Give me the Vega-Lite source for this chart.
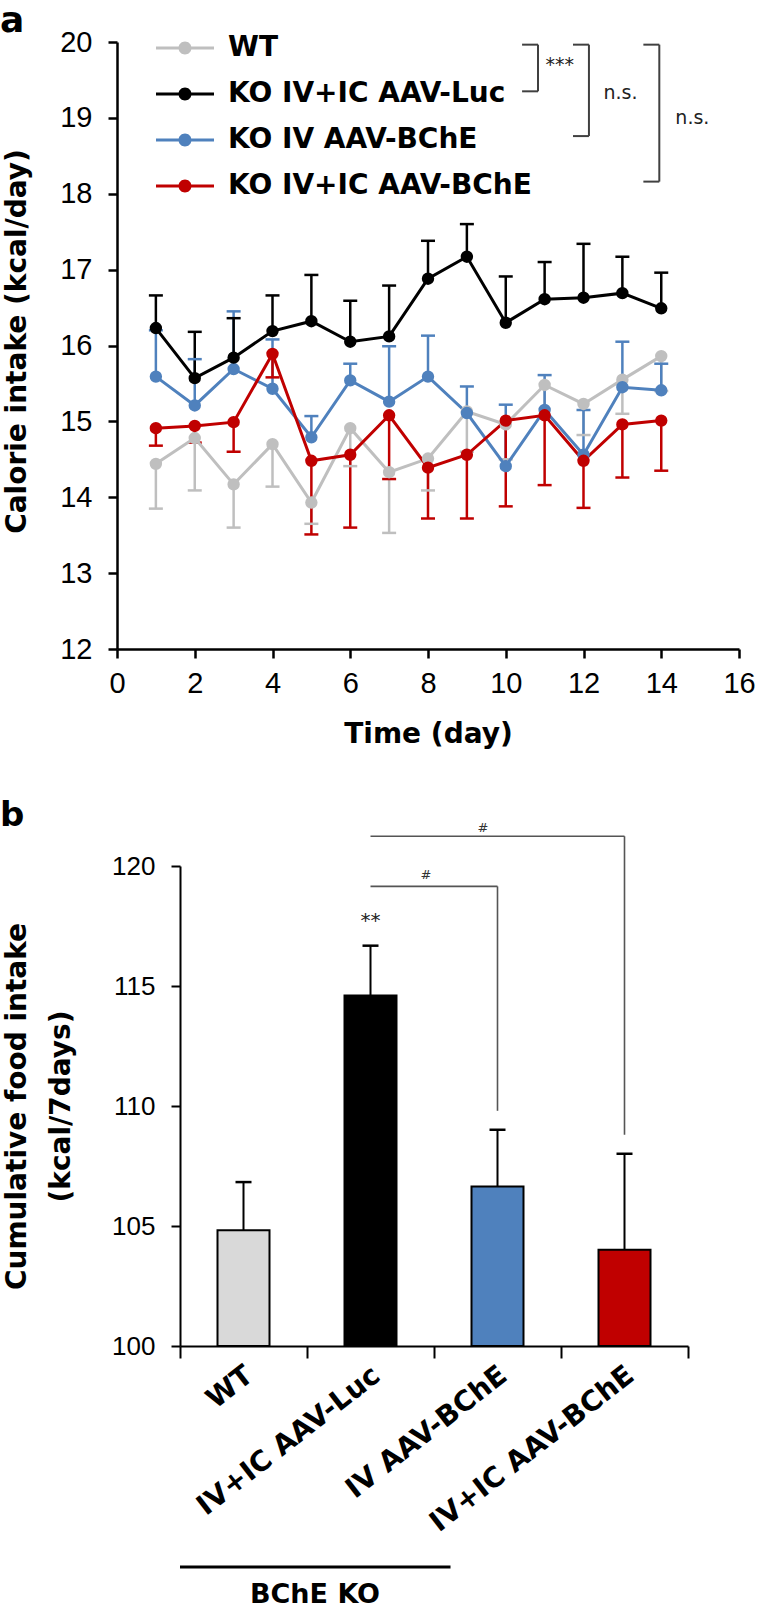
{
  "$schema": "https://vega.github.io/schema/vega-lite/v6.json",
  "padding": {"left": 0, "top": 3, "right": 0, "bottom": 0},
  "autosize": {"type": "pad"},
  "background": "white",
  "bounds": "flush",
  "spacing": 217,
  "resolve": {"scale": {"color": "independent"}, "legend": {"color": "independent"}},
  "config": {
    "view": {"stroke": null},
    "axis": {"grid": false, "domainColor": "#000", "tickColor": "#000", "labelColor": "#000", "titleColor": "#000"},
    "legend": {"orient": "none", "legendX": 54, "legendY": -8, "padding": 0,
      "symbolType": "M-2.9,-0.15H-0.6V0.15H-2.9Z M0.6,-0.15H2.9V0.15H0.6Z M0.65,0A0.65,0.65,0,1,1,-0.65,0A0.65,0.65,0,1,1,0.65,0Z",
      "symbolSize": 400, "symbolOpacity": 1, "symbolStrokeWidth": 0,
      "labelFont": "DejaVu Sans", "labelFontWeight": "bold", "labelFontSize": 28, "labelColor": "#000",
      "labelOffset": 29, "labelLimit": 0, "rowPadding": 18}
  },
  "datasets": {
    "calorie": [
      {"g": "WT", "day": 1, "mean": 14.44, "err": 13.85},
      {"g": "WT", "day": 2, "mean": 14.78, "err": 14.09},
      {"g": "WT", "day": 3, "mean": 14.17, "err": 13.60},
      {"g": "WT", "day": 4, "mean": 14.70, "err": 14.14},
      {"g": "WT", "day": 5, "mean": 13.93, "err": 13.65},
      {"g": "WT", "day": 6, "mean": 14.91, "err": 14.41},
      {"g": "WT", "day": 7, "mean": 14.33, "err": 13.53},
      {"g": "WT", "day": 8, "mean": 14.51, "err": 14.09},
      {"g": "WT", "day": 9, "mean": 15.13, "err": 14.60},
      {"g": "WT", "day": 10, "mean": 14.96, "err": 14.50},
      {"g": "WT", "day": 11, "mean": 15.48, "err": 15.05},
      {"g": "WT", "day": 12, "mean": 15.23, "err": 14.82},
      {"g": "WT", "day": 13, "mean": 15.55, "err": 15.10},
      {"g": "WT", "day": 14, "mean": 15.86, "err": 15.40},
      {"g": "KO IV AAV-BChE", "day": 1, "mean": 15.59, "err": 16.20},
      {"g": "KO IV AAV-BChE", "day": 2, "mean": 15.21, "err": 15.82},
      {"g": "KO IV AAV-BChE", "day": 3, "mean": 15.69, "err": 16.45},
      {"g": "KO IV AAV-BChE", "day": 4, "mean": 15.43, "err": 16.08},
      {"g": "KO IV AAV-BChE", "day": 5, "mean": 14.79, "err": 15.07},
      {"g": "KO IV AAV-BChE", "day": 6, "mean": 15.54, "err": 15.76},
      {"g": "KO IV AAV-BChE", "day": 7, "mean": 15.26, "err": 15.99},
      {"g": "KO IV AAV-BChE", "day": 8, "mean": 15.59, "err": 16.13},
      {"g": "KO IV AAV-BChE", "day": 9, "mean": 15.11, "err": 15.46},
      {"g": "KO IV AAV-BChE", "day": 10, "mean": 14.41, "err": 15.22},
      {"g": "KO IV AAV-BChE", "day": 11, "mean": 15.15, "err": 15.61},
      {"g": "KO IV AAV-BChE", "day": 12, "mean": 14.56, "err": 15.15},
      {"g": "KO IV AAV-BChE", "day": 13, "mean": 15.45, "err": 16.05},
      {"g": "KO IV AAV-BChE", "day": 14, "mean": 15.41, "err": 15.76},
      {"g": "KO IV+IC AAV-BChE", "day": 1, "mean": 14.91, "err": 14.68},
      {"g": "KO IV+IC AAV-BChE", "day": 2, "mean": 14.94, "err": 14.72},
      {"g": "KO IV+IC AAV-BChE", "day": 3, "mean": 14.99, "err": 14.60},
      {"g": "KO IV+IC AAV-BChE", "day": 4, "mean": 15.89, "err": 15.58},
      {"g": "KO IV+IC AAV-BChE", "day": 5, "mean": 14.48, "err": 13.51},
      {"g": "KO IV+IC AAV-BChE", "day": 6, "mean": 14.56, "err": 13.60},
      {"g": "KO IV+IC AAV-BChE", "day": 7, "mean": 15.08, "err": 14.24},
      {"g": "KO IV+IC AAV-BChE", "day": 8, "mean": 14.39, "err": 13.72},
      {"g": "KO IV+IC AAV-BChE", "day": 9, "mean": 14.56, "err": 13.72},
      {"g": "KO IV+IC AAV-BChE", "day": 10, "mean": 15.01, "err": 13.88},
      {"g": "KO IV+IC AAV-BChE", "day": 11, "mean": 15.08, "err": 14.16},
      {"g": "KO IV+IC AAV-BChE", "day": 12, "mean": 14.48, "err": 13.86},
      {"g": "KO IV+IC AAV-BChE", "day": 13, "mean": 14.96, "err": 14.26},
      {"g": "KO IV+IC AAV-BChE", "day": 14, "mean": 15.01, "err": 14.35},
      {"g": "KO IV+IC AAV-Luc", "day": 1, "mean": 16.23, "err": 16.66},
      {"g": "KO IV+IC AAV-Luc", "day": 2, "mean": 15.57, "err": 16.18},
      {"g": "KO IV+IC AAV-Luc", "day": 3, "mean": 15.84, "err": 16.36},
      {"g": "KO IV+IC AAV-Luc", "day": 4, "mean": 16.19, "err": 16.66},
      {"g": "KO IV+IC AAV-Luc", "day": 5, "mean": 16.32, "err": 16.93},
      {"g": "KO IV+IC AAV-Luc", "day": 6, "mean": 16.05, "err": 16.59},
      {"g": "KO IV+IC AAV-Luc", "day": 7, "mean": 16.12, "err": 16.79},
      {"g": "KO IV+IC AAV-Luc", "day": 8, "mean": 16.88, "err": 17.38},
      {"g": "KO IV+IC AAV-Luc", "day": 9, "mean": 17.17, "err": 17.60},
      {"g": "KO IV+IC AAV-Luc", "day": 10, "mean": 16.30, "err": 16.91},
      {"g": "KO IV+IC AAV-Luc", "day": 11, "mean": 16.61, "err": 17.10},
      {"g": "KO IV+IC AAV-Luc", "day": 12, "mean": 16.63, "err": 17.34},
      {"g": "KO IV+IC AAV-Luc", "day": 13, "mean": 16.69, "err": 17.17},
      {"g": "KO IV+IC AAV-Luc", "day": 14, "mean": 16.49, "err": 16.96}
    ],
    "brA": [
      {"x": 10.83, "x2": 10.83, "y": 19.965, "y2": 19.35},
      {"x": 10.42, "x2": 10.83, "y": 19.965, "y2": 19.965},
      {"x": 10.42, "x2": 10.83, "y": 19.35, "y2": 19.35},
      {"x": 12.14, "x2": 12.14, "y": 19.965, "y2": 18.76},
      {"x": 11.73, "x2": 12.14, "y": 19.965, "y2": 19.965},
      {"x": 11.73, "x2": 12.14, "y": 18.76, "y2": 18.76},
      {"x": 13.95, "x2": 13.95, "y": 19.965, "y2": 18.16},
      {"x": 13.54, "x2": 13.95, "y": 19.965, "y2": 19.965},
      {"x": 13.54, "x2": 13.95, "y": 18.16, "y2": 18.16}
    ],
    "txA": [
      {"x": 11.39, "y": 19.70, "t": "***"},
      {"x": 12.95, "y": 19.33, "t": "n.s."},
      {"x": 14.8, "y": 19.0, "t": "n.s."}
    ],
    "cum": [
      {"grp": "WT", "v": 104.82, "e": 106.83},
      {"grp": "IV+IC AAV-Luc", "v": 114.6, "e": 116.68},
      {"grp": "IV AAV-BChE", "v": 106.65, "e": 109.01},
      {"grp": "IV+IC AAV-BChE", "v": 104.01, "e": 108.01}
    ],
    "brBh": [
      {"a": "IV+IC AAV-Luc", "b": "IV AAV-BChE", "y": 119.15},
      {"a": "IV+IC AAV-Luc", "b": "IV+IC AAV-BChE", "y": 121.24}
    ],
    "brBv": [
      {"a": "IV AAV-BChE", "y": 119.15, "y2": 109.8},
      {"a": "IV+IC AAV-BChE", "y": 121.24, "y2": 108.8}
    ]
  },
  "vconcat": [
    {
      "width": 622,
      "height": 607,
      "title": {"text": "a", "anchor": "start", "frame": "group", "dx": -117, "offset": -40, "baseline": "alphabetic", "font": "DejaVu Sans", "fontSize": 36, "fontWeight": "bold", "color": "#000"},
      "layer": [
        {
          "data": {"name": "calorie"},
          "mark": {"type": "rule", "strokeWidth": 2.5},
          "encoding": {
            "x": {"field": "day", "type": "quantitative", "title": "Time (day)",
              "scale": {"domain": [0, 16], "nice": false, "zero": false},
              "axis": {"values": [0, 2, 4, 6, 8, 10, 12, 14, 16], "format": "d", "domainWidth": 2.5, "tickWidth": 2.5, "tickSize": 9, "labelFont": "Liberation Sans", "labelFontSize": 29, "labelPadding": 11, "labelFlush": false, "labelOverlap": false, "titleFont": "DejaVu Sans", "titleFontSize": 28, "titleFontWeight": "bold", "titleBaseline": "alphabetic", "titleY": 93}},
            "y": {"field": "mean", "type": "quantitative", "title": "Calorie intake (kcal/day)",
              "scale": {"domain": [12, 20], "nice": false, "zero": false},
              "axis": {"values": [12, 13, 14, 15, 16, 17, 18, 19, 20], "format": "d", "domainWidth": 2.5, "tickWidth": 2.5, "tickSize": 9, "labelFont": "Liberation Sans", "labelFontSize": 29, "labelPadding": 16, "labelFlush": false, "labelOverlap": false, "titleFont": "DejaVu Sans", "titleFontSize": 28, "titleFontWeight": "bold", "titleAngle": -90, "titleAlign": "center", "titleBaseline": "alphabetic", "titleX": -92, "titleY": 299}},
            "y2": {"field": "err"},
            "color": {"field": "g", "type": "nominal",
              "scale": {"domain": ["WT", "KO IV+IC AAV-Luc", "KO IV AAV-BChE", "KO IV+IC AAV-BChE"], "range": ["#BFBFBF", "#000000", "#4F81BD", "#C00000"]},
              "legend": {"title": null}}
          }
        },
        {
          "data": {"name": "calorie"},
          "mark": {"type": "tick", "orient": "horizontal", "size": 14, "thickness": 2.5, "opacity": 1},
          "encoding": {
            "x": {"field": "day", "type": "quantitative", "title": "Time (day)"},
            "y": {"field": "err", "type": "quantitative", "title": "Calorie intake (kcal/day)"},
            "color": {"field": "g", "type": "nominal", "legend": {"title": null}}
          }
        },
        {
          "data": {"name": "calorie"},
          "transform": [{"filter": "datum.g === 'WT'"}],
          "mark": {"type": "line", "strokeWidth": 3},
          "encoding": {
            "x": {"field": "day", "type": "quantitative", "title": "Time (day)"},
            "y": {"field": "mean", "type": "quantitative", "title": "Calorie intake (kcal/day)"},
            "color": {"field": "g", "type": "nominal", "legend": {"title": null}}
          }
        },
        {
          "data": {"name": "calorie"},
          "transform": [{"filter": "datum.g === 'KO IV AAV-BChE'"}],
          "mark": {"type": "line", "strokeWidth": 3},
          "encoding": {
            "x": {"field": "day", "type": "quantitative", "title": "Time (day)"},
            "y": {"field": "mean", "type": "quantitative", "title": "Calorie intake (kcal/day)"},
            "color": {"field": "g", "type": "nominal", "legend": {"title": null}}
          }
        },
        {
          "data": {"name": "calorie"},
          "transform": [{"filter": "datum.g === 'KO IV+IC AAV-BChE'"}],
          "mark": {"type": "line", "strokeWidth": 3},
          "encoding": {
            "x": {"field": "day", "type": "quantitative", "title": "Time (day)"},
            "y": {"field": "mean", "type": "quantitative", "title": "Calorie intake (kcal/day)"},
            "color": {"field": "g", "type": "nominal", "legend": {"title": null}}
          }
        },
        {
          "data": {"name": "calorie"},
          "transform": [{"filter": "datum.g === 'KO IV+IC AAV-Luc'"}],
          "mark": {"type": "line", "strokeWidth": 3},
          "encoding": {
            "x": {"field": "day", "type": "quantitative", "title": "Time (day)"},
            "y": {"field": "mean", "type": "quantitative", "title": "Calorie intake (kcal/day)"},
            "color": {"field": "g", "type": "nominal", "legend": {"title": null}}
          }
        },
        {
          "data": {"name": "calorie"},
          "mark": {"type": "point", "filled": true, "size": 154, "opacity": 1, "strokeWidth": 0},
          "encoding": {
            "x": {"field": "day", "type": "quantitative", "title": "Time (day)"},
            "y": {"field": "mean", "type": "quantitative", "title": "Calorie intake (kcal/day)"},
            "color": {"field": "g", "type": "nominal", "legend": {"title": null}}
          }
        },
        {
          "data": {"name": "brA"},
          "mark": {"type": "rule", "color": "#404040", "strokeWidth": 2},
          "encoding": {
            "x": {"field": "x", "type": "quantitative", "title": "Time (day)"},
            "x2": {"field": "x2"},
            "y": {"field": "y", "type": "quantitative", "title": "Calorie intake (kcal/day)"},
            "y2": {"field": "y2"}
          }
        },
        {
          "data": {"name": "txA"},
          "mark": {"type": "text", "font": "DejaVu Sans", "fontSize": 19, "color": "#222", "baseline": "middle", "align": "center"},
          "encoding": {
            "x": {"field": "x", "type": "quantitative", "title": "Time (day)"},
            "y": {"field": "y", "type": "quantitative", "title": "Calorie intake (kcal/day)"},
            "text": {"field": "t"}
          }
        }
      ]
    },
    {
      "width": 571,
      "height": 480,
      "title": {"text": "b", "anchor": "start", "frame": "group", "dx": -117, "offset": -38, "baseline": "alphabetic", "font": "DejaVu Sans", "fontSize": 34, "fontWeight": "bold", "color": "#000"},
      "layer": [
        {
          "data": {"name": "cum"},
          "mark": {"type": "bar", "size": 52, "stroke": "#000", "strokeWidth": 2},
          "encoding": {
            "x": {"field": "grp", "type": "nominal", "title": null,
              "scale": {"domain": ["WT", "IV+IC AAV-Luc", "IV AAV-BChE", "IV+IC AAV-BChE"], "range": [63, 571], "paddingInner": 0, "paddingOuter": 0},
              "axis": {"domainWidth": 2, "tickWidth": 2, "tickSize": 12, "tickBand": "extent", "labelAngle": -38, "labelAlign": "right", "labelBaseline": "middle", "labelFont": "DejaVu Sans", "labelFontWeight": "bold", "labelFontSize": 28, "labelPadding": 14, "labelOffset": 6, "labelLimit": 0}},
            "y": {"field": "v", "type": "quantitative", "title": ["Cumulative food intake", "(kcal/7days)"],
              "scale": {"domain": [100, 120], "nice": false, "zero": false},
              "axis": {"values": [100, 105, 110, 115, 120], "format": "d", "offset": -63, "domainWidth": 2, "tickWidth": 2, "tickSize": 9, "labelFont": "Liberation Sans", "labelFontSize": 26, "labelPadding": 16, "titleFont": "DejaVu Sans", "titleFontSize": 28, "titleFontWeight": "bold", "titleAngle": -90, "titleAlign": "center", "titleBaseline": "alphabetic", "titleLineHeight": 44, "titleX": -155, "titleY": 240}},
            "y2": {"datum": 100},
            "color": {"field": "grp", "type": "nominal",
              "scale": {"domain": ["WT", "IV+IC AAV-Luc", "IV AAV-BChE", "IV+IC AAV-BChE"], "range": ["#D9D9D9", "#000000", "#4F81BD", "#C00000"]},
              "legend": null}
          }
        },
        {
          "data": {"name": "cum"},
          "mark": {"type": "rule", "color": "#000", "strokeWidth": 2},
          "encoding": {
            "x": {"field": "grp", "type": "nominal", "title": null},
            "y": {"field": "v", "type": "quantitative", "title": ["Cumulative food intake", "(kcal/7days)"]},
            "y2": {"field": "e"}
          }
        },
        {
          "data": {"name": "cum"},
          "mark": {"type": "tick", "orient": "horizontal", "color": "#000", "size": 16, "thickness": 2.5, "opacity": 1},
          "encoding": {
            "x": {"field": "grp", "type": "nominal", "title": null},
            "y": {"field": "e", "type": "quantitative", "title": ["Cumulative food intake", "(kcal/7days)"]}
          }
        },
        {
          "data": {"name": "brBh"},
          "mark": {"type": "rule", "color": "#555", "strokeWidth": 1.6},
          "encoding": {
            "x": {"field": "a", "type": "nominal", "title": null},
            "x2": {"field": "b"},
            "y": {"field": "y", "type": "quantitative", "title": ["Cumulative food intake", "(kcal/7days)"]}
          }
        },
        {
          "data": {"name": "brBv"},
          "mark": {"type": "rule", "color": "#555", "strokeWidth": 1.6},
          "encoding": {
            "x": {"field": "a", "type": "nominal", "title": null},
            "y": {"field": "y", "type": "quantitative", "title": ["Cumulative food intake", "(kcal/7days)"]},
            "y2": {"field": "y2"}
          }
        },
        {
          "data": {"values": [{"grp": "IV+IC AAV-Luc", "y": 117.71, "t": "**"}]},
          "mark": {"type": "text", "font": "DejaVu Sans", "fontSize": 20, "color": "#222", "baseline": "middle", "align": "center"},
          "encoding": {
            "x": {"field": "grp", "type": "nominal", "title": null},
            "y": {"field": "y", "type": "quantitative", "title": ["Cumulative food intake", "(kcal/7days)"]},
            "text": {"field": "t"}
          }
        },
        {
          "data": {"values": [{"grp": "IV+IC AAV-Luc", "y": 119.63, "t": "#"}]},
          "mark": {"type": "text", "font": "DejaVu Sans", "fontSize": 13, "color": "#333", "baseline": "middle", "align": "center"},
          "encoding": {
            "x": {"field": "grp", "type": "nominal", "bandPosition": 0.937, "title": null},
            "y": {"field": "y", "type": "quantitative", "title": ["Cumulative food intake", "(kcal/7days)"]},
            "text": {"field": "t"}
          }
        },
        {
          "data": {"values": [{"grp": "IV AAV-BChE", "y": 121.58, "t": "#"}]},
          "mark": {"type": "text", "font": "DejaVu Sans", "fontSize": 13, "color": "#333", "baseline": "middle", "align": "center"},
          "encoding": {
            "x": {"field": "grp", "type": "nominal", "bandPosition": 0.386, "title": null},
            "y": {"field": "y", "type": "quantitative", "title": ["Cumulative food intake", "(kcal/7days)"]},
            "text": {"field": "t"}
          }
        },
        {
          "data": {"values": [{"a": "WT", "b": "IV+IC AAV-Luc", "y": 90.79}]},
          "mark": {"type": "rule", "color": "#000", "strokeWidth": 3},
          "encoding": {
            "x": {"field": "a", "type": "nominal", "bandPosition": 0, "title": null},
            "x2": {"field": "b", "bandPosition": 1.13},
            "y": {"field": "y", "type": "quantitative", "title": ["Cumulative food intake", "(kcal/7days)"]}
          }
        },
        {
          "data": {"values": [{"grp": "IV+IC AAV-Luc", "y": 89.29, "t": "BChE KO"}]},
          "mark": {"type": "text", "font": "DejaVu Sans", "fontSize": 27, "fontWeight": "bold", "color": "#000", "baseline": "alphabetic", "align": "center"},
          "encoding": {
            "x": {"field": "grp", "type": "nominal", "bandPosition": 0.063, "title": null},
            "y": {"field": "y", "type": "quantitative", "title": ["Cumulative food intake", "(kcal/7days)"]},
            "text": {"field": "t"}
          }
        }
      ]
    }
  ]
}
